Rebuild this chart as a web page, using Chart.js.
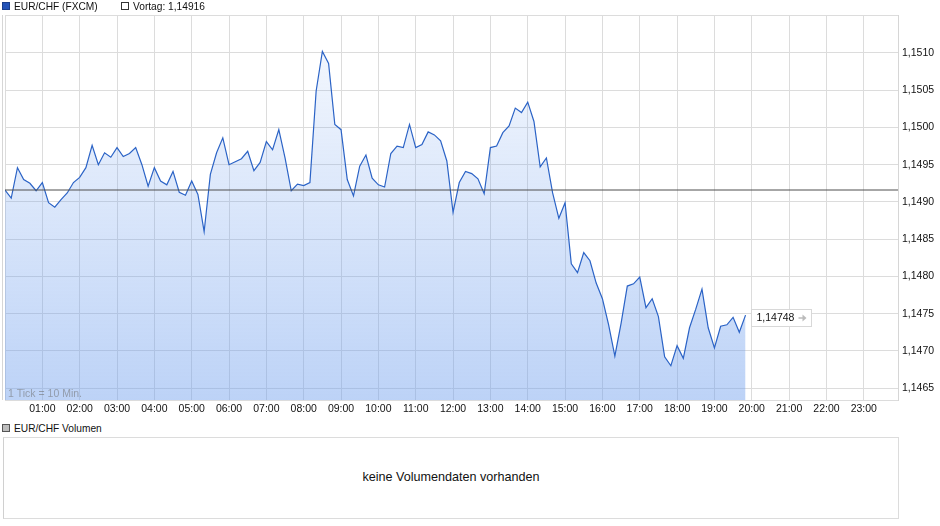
<!DOCTYPE html>
<html>
<head>
<meta charset="utf-8">
<script src="https://cdn.jsdelivr.net/npm/chart.js@4.4.0/dist/chart.umd.min.js"></script>
<style>
  body { margin: 0; background: #fff; font-family: "Liberation Sans", Arial, sans-serif; color: #111; }
  #wrap { position: relative; width: 940px; height: 526px; overflow: hidden; }
  #main { position: absolute; left: 0; top: 0; }
  .leg { position: absolute; font-size: 10.2px; line-height: 12px; white-space: nowrap; }
  .box { display: inline-block; width: 6px; height: 6px; border: 1px solid #333; vertical-align: 0; margin-right: 4px; }
  #volbox { position: absolute; left: 3px; top: 437px; width: 894px; height: 80px; border: 1px solid #dcdcdc; border-left-color: #d0d0d0; }
  #volbox span { position: absolute; left: 0; right: 0; top: 32px; text-align: center; font-size: 12.6px; }
</style>
</head>
<body>
<div id="wrap">
  <canvas id="main" width="940" height="420"></canvas>
  <div class="leg" style="left:2px;top:1px"><span class="box" style="background:#2353b8;border-color:#1a3f8c"></span>EUR/CHF (FXCM)</div>
  <div class="leg" style="left:121px;top:1px"><span class="box" style="background:#fff"></span>Vortag: 1,14916</div>
  <div class="leg" style="left:2px;top:423px"><span class="box" style="background:#bdbdbd;border-color:#555"></span>EUR/CHF Volumen</div>
  <div id="volbox"><span>keine Volumendaten vorhanden</span></div>
</div>
<script>
// Kurse im 10-Minuten-Takt ab 00:00
const stepMin = 10;
const closeValues = [
  1.14916, 1.14905, 1.14946, 1.14930, 1.14925, 1.14915, 1.14926, 1.14899, 1.14893, 1.14903,
  1.14912, 1.14926, 1.14933, 1.14946, 1.14976, 1.14950, 1.14966, 1.14960, 1.14973, 1.14961,
  1.14965, 1.14973, 1.14950, 1.14921, 1.14946, 1.14928, 1.14923, 1.14941, 1.14913, 1.14909,
  1.14928, 1.14910, 1.14860, 1.14937, 1.14966, 1.14986, 1.14950, 1.14954, 1.14958, 1.14968,
  1.14942, 1.14953, 1.14981, 1.14970, 1.14997, 1.14959, 1.14915, 1.14924, 1.14922, 1.14926,
  1.15049, 1.15102, 1.15086, 1.15004, 1.14997, 1.14930, 1.14908, 1.14948, 1.14963, 1.14932,
  1.14923, 1.14920, 1.14965, 1.14975, 1.14973, 1.15004, 1.14973, 1.14977, 1.14994, 1.14990,
  1.14982, 1.14955, 1.14886, 1.14926, 1.14941, 1.14938, 1.14931, 1.14911, 1.14973, 1.14975,
  1.14993, 1.15002, 1.15026, 1.15020, 1.15034, 1.15008, 1.14947, 1.14959, 1.14912, 1.14878,
  1.14899, 1.14817, 1.14805, 1.14832, 1.14821, 1.14791, 1.14770, 1.14735, 1.14693, 1.14737,
  1.14787, 1.14790, 1.14799, 1.14758, 1.14770, 1.14746, 1.14692, 1.14680, 1.14707, 1.14690,
  1.14731, 1.14756, 1.14783, 1.14731, 1.14704, 1.14733, 1.14735, 1.14745, 1.14725, 1.14748
];
const prevClose = 1.14916;
const hourLabels = ['00:00','01:00','02:00','03:00','04:00','05:00','06:00','07:00','08:00','09:00','10:00','11:00',
  '12:00','13:00','14:00','15:00','16:00','17:00','18:00','19:00','20:00','21:00','22:00','23:00'];
const yTickValues = [1.1465, 1.1470, 1.1475, 1.1480, 1.1485, 1.1490, 1.1495, 1.1500, 1.1505, 1.1510];
const yMin = 1.14634, yMax = 1.15151;
const xMax = 1435;

const fontFam = '"Liberation Sans", Arial, sans-serif';
const fmt = (v, d) => v.toFixed(d).replace('.', ',');

// Rahmen links, Hinweis "1 Tick" und Kursfähnchen am Ende
const decoPlugin = {
  id: 'deco',
  afterDraw(chart) {
    const { ctx, chartArea, scales } = chart;
    ctx.save();
    ctx.strokeStyle = '#d6d6d6';
    ctx.lineWidth = 1;
    ctx.beginPath();
    ctx.moveTo(2.5, chartArea.top);
    ctx.lineTo(2.5, chartArea.bottom);
    ctx.stroke();

    ctx.font = '10.5px ' + fontFam;
    ctx.fillStyle = 'rgba(110,110,110,0.55)';
    ctx.textBaseline = 'alphabetic';
    ctx.fillText('1 Tick = 10 Min.', chartArea.left + 3, chartArea.bottom - 3);

    const i = closeValues.length - 1;
    const x = scales.x.getPixelForValue(i * stepMin);
    const y = scales.y.getPixelForValue(closeValues[i]);
    const bx = Math.round(x) + 5.5, by = Math.round(y) - 5.5;
    ctx.fillStyle = '#fff';
    ctx.fillRect(bx, by, 60, 17);
    ctx.strokeStyle = '#d8d8d8';
    ctx.strokeRect(bx, by, 60, 17);
    ctx.fillStyle = '#111';
    ctx.textBaseline = 'middle';
    ctx.fillText(fmt(closeValues[i], 5), bx + 5, by + 9);
    // kleiner Pfeil
    ctx.strokeStyle = '#bbb';
    ctx.fillStyle = '#bbb';
    ctx.lineWidth = 1.5;
    ctx.beginPath();
    ctx.moveTo(bx + 47, by + 8.5);
    ctx.lineTo(bx + 52, by + 8.5);
    ctx.stroke();
    ctx.beginPath();
    ctx.moveTo(bx + 55, by + 8.5);
    ctx.lineTo(bx + 51, by + 5);
    ctx.lineTo(bx + 51, by + 12);
    ctx.closePath();
    ctx.fill();
    ctx.restore();
  }
};

const ctx = document.getElementById('main');
new Chart(ctx, {
  type: 'line',
  data: {
    datasets: [
      {
        label: 'Vortag',
        data: [{ x: 0, y: prevClose }, { x: xMax, y: prevClose }],
        borderColor: '#4e4e4e',
        borderWidth: 1,
        pointRadius: 0,
        fill: false,
        order: 0
      },
      {
        label: 'EUR/CHF (FXCM)',
        data: closeValues.map((v, i) => ({ x: i * stepMin, y: v })),
        borderColor: '#2b63c6',
        borderWidth: 1.2,
        pointRadius: 0,
        tension: 0,
        fill: 'start',
        order: 1,
        backgroundColor: (c) => {
          const area = c.chart.chartArea;
          if (!area) return 'rgba(110,158,237,0.3)';
          const g = c.chart.ctx.createLinearGradient(0, area.top, 0, area.bottom);
          g.addColorStop(0, 'rgba(110,158,237,0.05)');
          g.addColorStop(1, 'rgba(110,158,237,0.46)');
          return g;
        }
      }
    ]
  },
  options: {
    responsive: false,
    animation: false,
    layout: { padding: { top: 15, left: 5, right: 0, bottom: 0 } },
    plugins: { legend: { display: false }, tooltip: { enabled: false } },
    scales: {
      x: {
        type: 'linear',
        min: 0,
        max: xMax,
        afterBuildTicks: (s) => { s.ticks = hourLabels.map((_, h) => ({ value: h * 60 })); },
        afterFit: (s) => { s.height = 20; },
        grid: { color: '#dcdcdc', drawTicks: false },
        border: { display: true, color: '#dcdcdc' },
        ticks: {
          padding: 3,
          maxRotation: 0,
          autoSkip: false,
          color: '#111',
          font: { family: fontFam, size: 10.5 },
          callback: (v) => { const h = Math.round(v / 60); return h > 0 ? hourLabels[h] : ''; }
        }
      },
      y: {
        position: 'right',
        min: yMin,
        max: yMax,
        afterBuildTicks: (s) => { s.ticks = [yMin, ...yTickValues, yMax].map(v => ({ value: v })); },
        afterFit: (s) => { s.width = 42; },
        grid: { color: '#dcdcdc', drawTicks: false },
        border: { display: true, color: '#d6d6d6' },
        ticks: {
          padding: 4,
          color: '#111',
          font: { family: fontFam, size: 10.5 },
          callback: (v) => yTickValues.some(t => Math.abs(t - v) < 1e-9) ? fmt(v, 4) : ''
        }
      }
    }
  },
  plugins: [decoPlugin]
});
</script>
</body>
</html>
